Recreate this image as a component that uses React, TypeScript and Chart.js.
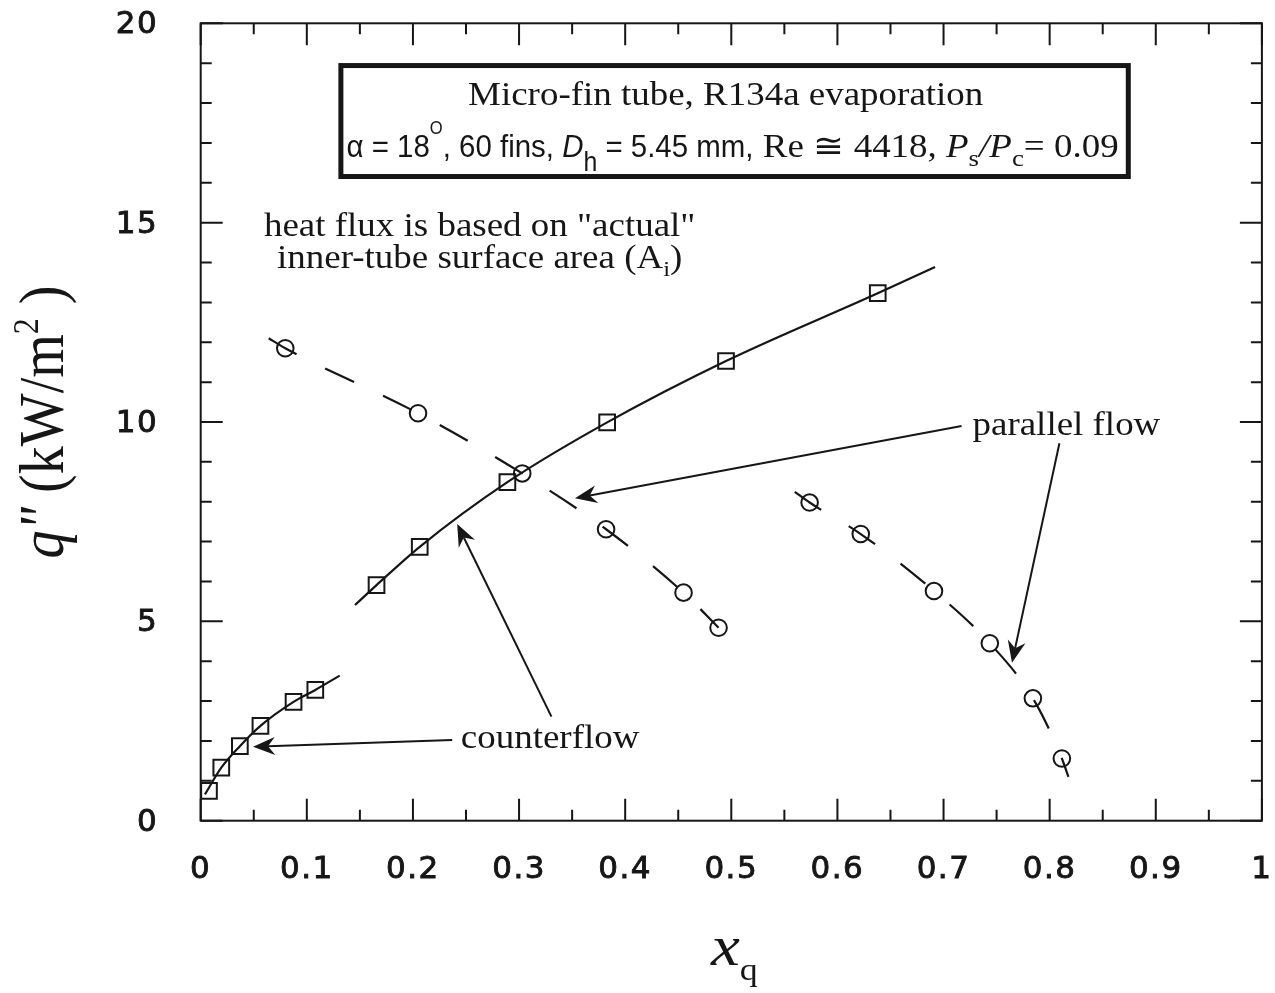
import { useEffect, useRef } from "react";
import { Chart, registerables } from "chart.js";

Chart.register(...registerables);

// ---------------- data ----------------
// counterflow (squares)
const counterLowX = [0.0078, 0.0194, 0.0369, 0.0563, 0.0875, 0.108];
const counterLowQ = [0.75, 1.33, 1.87, 2.38, 2.98, 3.28];
const counterHighX = [0.1657, 0.2064, 0.289, 0.383, 0.495, 0.638];
const counterHighQ = [5.91, 6.87, 8.49, 9.99, 11.53, 13.23];
// parallel flow (circles)
const parallel1X = [0.0797, 0.2048, 0.303, 0.382, 0.455, 0.488];
const parallel1Q = [11.85, 10.22, 8.71, 7.31, 5.72, 4.84];
const parallel2X = [0.5738, 0.622, 0.691, 0.7436, 0.7842, 0.8115];
const parallel2Q = [7.98, 7.19, 5.76, 4.45, 3.07, 1.56];
// fitted curves as drawn in the figure
const fitCounterLowX = [0.004, 0.0194, 0.0369, 0.0563, 0.0875, 0.108, 0.131];
const fitCounterLowQ = [0.66, 1.33, 1.87, 2.38, 2.98, 3.28, 3.64];
const fitCounterHighX = [0.1454, 0.1657, 0.2064, 0.289, 0.383, 0.495, 0.638, 0.692];
const fitCounterHighQ = [5.41, 5.91, 6.87, 8.49, 9.99, 11.53, 13.23, 13.89];
const fitParallel1X = [0.0641, 0.0797, 0.2048, 0.303, 0.382, 0.455, 0.488];
const fitParallel1Q = [12.1, 11.85, 10.22, 8.71, 7.31, 5.72, 4.84];
const fitParallel2X = [0.5598, 0.5738, 0.622, 0.691, 0.7436, 0.7842, 0.8115, 0.8177];
const fitParallel2Q = [8.25, 7.98, 7.19, 5.76, 4.45, 3.07, 1.56, 1.1];

// axis ticks
const xMajorTicks = [0, 0.1, 0.2, 0.3, 0.4, 0.5, 0.6, 0.7, 0.8, 0.9, 1];
const xMinorTicks = [0.05, 0.15, 0.25, 0.35, 0.45, 0.55, 0.65, 0.75, 0.85, 0.95];
const yMajorTicks = [0, 5, 10, 15, 20];
const yMinorTicks = [1, 2, 3, 4, 6, 7, 8, 9, 11, 12, 13, 14, 16, 17, 18, 19];

// ---------------- styling ----------------
const INK = "#161616";
const SERIF = '"Liberation Serif", "Times New Roman", serif';
const SANS = '"Liberation Sans", Arial, sans-serif';
const TICKFONT = '"DejaVu Sans", Verdana, sans-serif';

type Seg = { t: string; f: string; dy?: number };

function drawRich(
  ctx: CanvasRenderingContext2D,
  segs: Seg[],
  x: number,
  y: number,
  align: "left" | "center",
  sx = 1
) {
  ctx.textAlign = "left";
  ctx.textBaseline = "alphabetic";
  const widths = segs.map((s) => {
    ctx.font = s.f;
    return ctx.measureText(s.t).width;
  });
  const total = widths.reduce((a, b) => a + b, 0) * sx;
  let cx = align === "center" ? x - total / 2 : x;
  segs.forEach((s, i) => {
    ctx.font = s.f;
    ctx.save();
    ctx.translate(cx, y + (s.dy || 0));
    ctx.scale(sx, 1);
    ctx.fillText(s.t, 0, 0);
    ctx.restore();
    cx += widths[i] * sx;
  });
}

function richWidth(ctx: CanvasRenderingContext2D, segs: Seg[]) {
  return segs.reduce((a, s) => {
    ctx.font = s.f;
    return a + ctx.measureText(s.t).width;
  }, 0);
}

function arrow(ctx: CanvasRenderingContext2D, x1: number, y1: number, x2: number, y2: number) {
  const a = Math.atan2(y2 - y1, x2 - x1);
  const c = Math.cos(a);
  const s = Math.sin(a);
  const L = 22;
  const W = 9;
  const N = 15;
  ctx.beginPath();
  ctx.moveTo(x1, y1);
  ctx.lineTo(x2 - N * c, y2 - N * s);
  ctx.stroke();
  ctx.beginPath();
  ctx.moveTo(x2, y2);
  ctx.lineTo(x2 - L * c + W * s, y2 - L * s - W * c);
  ctx.lineTo(x2 - N * c, y2 - N * s);
  ctx.lineTo(x2 - L * c - W * s, y2 - L * s + W * c);
  ctx.closePath();
  ctx.fill();
}

const decorPlugin = {
  id: "decor",
  beforeDraw(chart: any) {
    chart.ctx.letterSpacing = "1.5px";
  },
  beforeDatasetsDraw(chart: any) {
    chart.ctx.letterSpacing = "0px";
  },
  afterDraw(chart: any) {
    const ctx: CanvasRenderingContext2D = chart.ctx;
    const xs = chart.scales.x;
    const ys = chart.scales.y;
    const X = (v: number) => xs.getPixelForValue(v);
    const Y = (v: number) => ys.getPixelForValue(v);
    const { left, right, top, bottom } = chart.chartArea;
    ctx.save();
    ctx.letterSpacing = "0px";
    ctx.strokeStyle = INK;
    ctx.fillStyle = INK;
    ctx.lineCap = "butt";

    // frame
    ctx.lineWidth = 2;
    ctx.strokeRect(left, top, right - left, bottom - top);

    // inward ticks on all four sides
    const tick = (vals: number[], len: number) => {
      vals.forEach((v) => {
        const px = X(v);
        ctx.beginPath();
        ctx.moveTo(px, bottom);
        ctx.lineTo(px, bottom - len);
        ctx.moveTo(px, top);
        ctx.lineTo(px, top + len);
        ctx.stroke();
      });
    };
    const ytick = (vals: number[], len: number) => {
      vals.forEach((v) => {
        const py = Y(v);
        ctx.beginPath();
        ctx.moveTo(left, py);
        ctx.lineTo(left + len, py);
        ctx.moveTo(right, py);
        ctx.lineTo(right - len, py);
        ctx.stroke();
      });
    };
    tick(xMajorTicks, 22);
    tick(xMinorTicks, 11);
    ytick(yMajorTicks, 22);
    ytick(yMinorTicks, 11);

    // info box
    ctx.lineWidth = 5;
    const bx0 = X(0.1321);
    const bx1 = X(0.8741);
    const by0 = Y(18.94);
    const by1 = Y(16.157);
    ctx.strokeRect(bx0, by0, bx1 - bx0, by1 - by0);

    drawRich(ctx, [{ t: "Micro-fin tube, R134a evaporation", f: `33px ${SERIF}` }], X(0.4947), Y(17.951), "center", 1.12);

    const sansSegs: Seg[] = [
      { t: "\u03b1 = 18", f: `32px ${SANS}` },
      { t: "O", f: `18px ${SANS}`, dy: -23 },
      { t: ", 60 fins, ", f: `32px ${SANS}` },
      { t: "D", f: `italic 32px ${SANS}` },
      { t: "h", f: `27px ${SANS}`, dy: 14 },
      { t: " = 5.45 mm,", f: `32px ${SANS}` },
    ];
    const serifSegs: Seg[] = [
      { t: " Re \u2245 4418, ", f: `33px ${SERIF}` },
      { t: "P", f: `italic 33px ${SERIF}` },
      { t: "s", f: `24px ${SERIF}`, dy: 9 },
      { t: "/", f: `italic 33px ${SERIF}` },
      { t: "P", f: `italic 33px ${SERIF}` },
      { t: "c", f: `24px ${SERIF}`, dy: 9 },
      { t: "= 0.09", f: `33px ${SERIF}` },
    ];
    const sSx = 0.92;
    const rSx = 1.12;
    const w1 = richWidth(ctx, sansSegs) * sSx;
    const w2 = richWidth(ctx, serifSegs) * rSx;
    const l2x = X(0.5012) - (w1 + w2) / 2;
    drawRich(ctx, sansSegs, l2x, Y(16.647), "left", sSx);
    drawRich(ctx, serifSegs, l2x + w1, Y(16.647), "left", rSx);

    // heat flux note
    drawRich(ctx, [{ t: 'heat flux is based on "actual"', f: `33px ${SERIF}` }], X(0.2629), Y(14.665), "center", 1.12);
    drawRich(
      ctx,
      [
        { t: "inner-tube surface area (A", f: `33px ${SERIF}` },
        { t: "i", f: `22px ${SERIF}`, dy: 8 },
        { t: ")", f: `33px ${SERIF}` },
      ],
      X(0.2629),
      Y(13.855),
      "center",
      1.12
    );

    // labels + arrows
    drawRich(ctx, [{ t: "parallel flow", f: `33px ${SERIF}` }], X(0.7273), Y(9.676), "left", 1.12);
    drawRich(ctx, [{ t: "counterflow", f: `33px ${SERIF}` }], X(0.2451), Y(1.823), "left", 1.12);
    ctx.lineWidth = 2;
    arrow(ctx, X(0.717), Y(9.9), X(0.3527), Y(8.086));
    arrow(ctx, X(0.8092), Y(9.466), X(0.7645), Y(3.96));
    arrow(ctx, X(0.237), Y(2.024), X(0.0493), Y(1.856));
    arrow(ctx, X(0.3305), Y(2.61), X(0.2417), Y(7.44));

    // x axis title
    drawRich(
      ctx,
      [
        { t: "x", f: `italic 58px ${SERIF}` },
        { t: "q", f: `32px ${SERIF}`, dy: 15 },
      ],
      (left + right) / 2 + 3,
      965,
      "center",
      1.12
    );

    // y axis title (rotated)
    ctx.save();
    ctx.translate(63, (top + bottom) / 2);
    ctx.rotate(-Math.PI / 2);
    ctx.scale(1, 1.15);
    drawRich(
      ctx,
      [
        { t: "q", f: `italic 56px ${SERIF}` },
        { t: '"', f: `italic 56px ${SERIF}` },
        { t: " (kW/m", f: `56px ${SERIF}` },
        { t: "2", f: `32px ${SERIF}`, dy: -22 },
        { t: " )", f: `56px ${SERIF}` },
      ],
      0,
      0,
      "center"
    );
    ctx.restore();

    ctx.restore();
  },
};

const pts = (xs: number[], ys: number[]) => xs.map((x, i) => ({ x, y: ys[i] }));

export default function App() {
  const ref = useRef<HTMLCanvasElement | null>(null);

  useEffect(() => {
    if (!ref.current) return;
    const fitLine = (data: any, dash: number[]) => ({
      data,
      showLine: true,
      pointRadius: 0,
      borderColor: INK,
      borderWidth: 2.2,
      borderDash: dash,
      cubicInterpolationMode: "monotone",
      fill: false,
    });
    const markers = (data: any, style: string, radius: number) => ({
      data,
      showLine: false,
      pointStyle: style,
      pointRadius: radius,
      pointBorderWidth: 2,
      pointBorderColor: INK,
      pointBackgroundColor: "rgba(0,0,0,0)",
      borderColor: INK,
      backgroundColor: "rgba(0,0,0,0)",
    });

    const chart = new Chart(ref.current, {
      type: "scatter",
      data: {
        datasets: [
          { label: "counterflow fit (low)", ...fitLine(pts(fitCounterLowX, fitCounterLowQ), []) },
          { label: "counterflow fit (high)", ...fitLine(pts(fitCounterHighX, fitCounterHighQ), []) },
          { label: "parallel fit 1", ...fitLine(pts(fitParallel1X, fitParallel1Q), [32, 32]) },
          { label: "parallel fit 2", ...fitLine(pts(fitParallel2X, fitParallel2Q), [32, 32]) },
          { label: "counterflow low", ...markers(pts(counterLowX, counterLowQ), "rect", 11.1) },
          { label: "counterflow high", ...markers(pts(counterHighX, counterHighQ), "rect", 11.1) },
          { label: "parallel 1", ...markers(pts(parallel1X, parallel1Q), "circle", 8.3) },
          { label: "parallel 2", ...markers(pts(parallel2X, parallel2Q), "circle", 8.3) },
        ] as any,
      },
      options: {
        responsive: false,
        animation: false,
        events: [],
        layout: { padding: { left: 0, right: 8.3, top: 23.3, bottom: 0 } },
        plugins: { legend: { display: false }, tooltip: { enabled: false } },
        scales: {
          x: {
            type: "linear",
            min: 0,
            max: 1,
            grid: { display: false, drawTicks: false },
            border: { display: false },
            afterFit: (s: any) => {
              s.height = 172.3;
              s.paddingLeft = 0;
              s.paddingRight = 0;
            },
            ticks: {
              stepSize: 0.1,
              maxRotation: 0,
              autoSkip: false,
              padding: 31,
              color: INK,
              textStrokeColor: INK,
              textStrokeWidth: 0.9,
              font: { family: TICKFONT, size: 31 },
              callback: (v: any) => {
                const n = Number(v);
                return n === 0 ? "0" : n === 1 ? "1" : n.toFixed(1);
              },
            },
          },
          y: {
            type: "linear",
            min: 0,
            max: 20,
            grid: { display: false, drawTicks: false },
            border: { display: false },
            afterFit: (s: any) => {
              s.width = 200.7;
              s.paddingTop = 0;
              s.paddingBottom = 0;
            },
            ticks: {
              stepSize: 5,
              padding: 42.5,
              labelOffset: 2,
              color: INK,
              textStrokeColor: INK,
              textStrokeWidth: 0.9,
              font: { family: TICKFONT, size: 31 },
              callback: (v: any) => String(v),
            },
          },
        },
      } as any,
      plugins: [decorPlugin],
    });
    return () => chart.destroy();
  }, []);

  return (
    <div style={{ position: "absolute", left: 0, top: 0, width: 1275, height: 993, background: "#fff" }}>
      <canvas ref={ref} width={1275} height={993} style={{ display: "block" }} />
    </div>
  );
}
